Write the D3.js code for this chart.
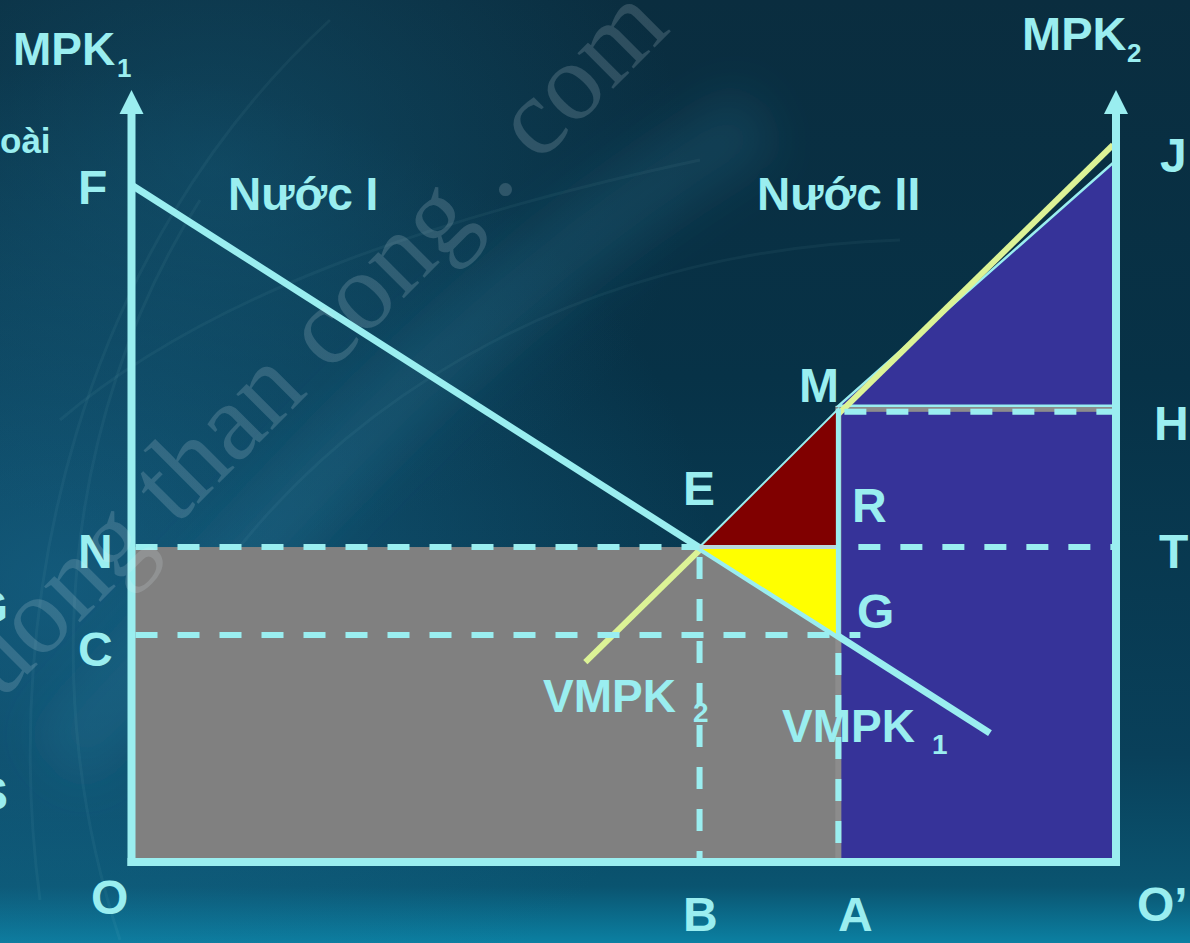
<!DOCTYPE html>
<html>
<head>
<meta charset="utf-8">
<script src="https://cdn.jsdelivr.net/npm/d3@7"></script>
<style>
html, body { margin: 0; padding: 0; background: #08374e; overflow: hidden; }
</style>
</head>
<body>
<div class="canvas"></div>
<script>
// capital axis (O ... O'), in % of the world capital stock
const capitalNames = ["O", "B", "A", "O’"]
const capitalAt = [0, 57.7, 71.8, 100]

// return levels on the MPK axes
const rateNames = ["F", "N", "C", "H", "J"]
const rateAt = [87.7, 40.8, 29.4, 58.7, 90.9]

// the two VMPK curves, [capital, return]
const vmpk1 = [[0, 87.7], [87.2, 16.7]]
const vmpk2 = [[46.1, 25.9], [99.7, 92.9]]

const W = 1190, H = 943
const cyan = "#9aeef0"

const svg = d3.select(".canvas")
    .append("svg")
    .attr("width", W)
    .attr("height", H)

const x = d3.scaleLinear().domain([0, 100]).range([131.5, 1116])
const y = d3.scaleLinear().domain([0, 100]).range([862, 90])

const cx = name => x(capitalAt[capitalNames.indexOf(name)])
const ry = name => y(rateAt[rateNames.indexOf(name)])

// ---- background ----
const defs = svg.append("defs")
const bg = defs.append("linearGradient").attr("id", "bg")
    .attr("x1", 0).attr("y1", 0).attr("x2", 0).attr("y2", 1)
bg.append("stop").attr("offset", "0%").attr("stop-color", "#0a2d3f")
bg.append("stop").attr("offset", "40%").attr("stop-color", "#073247")
bg.append("stop").attr("offset", "80%").attr("stop-color", "#09405a")
bg.append("stop").attr("offset", "94%").attr("stop-color", "#0a5470")
bg.append("stop").attr("offset", "100%").attr("stop-color", "#0b80a2")

const glow = defs.append("radialGradient").attr("id", "glow")
    .attr("cx", 0.05).attr("cy", 0.62).attr("r", 0.55)
glow.append("stop").attr("offset", "0%").attr("stop-color", "#1a6f96").attr("stop-opacity", 0.6)
glow.append("stop").attr("offset", "100%").attr("stop-color", "#1a6f96").attr("stop-opacity", 0)

const glow2 = defs.append("radialGradient").attr("id", "glow2")
    .attr("cx", 0.18).attr("cy", 0.18).attr("r", 0.4)
glow2.append("stop").attr("offset", "0%").attr("stop-color", "#17607f").attr("stop-opacity", 0.45)
glow2.append("stop").attr("offset", "100%").attr("stop-color", "#17607f").attr("stop-opacity", 0)

defs.append("filter").attr("id", "blur").append("feGaussianBlur").attr("stdDeviation", 3)
defs.append("filter").attr("id", "blurBig").append("feGaussianBlur").attr("stdDeviation", 25)

svg.append("rect").attr("width", W).attr("height", H).attr("fill", "url(#bg)")
svg.append("rect").attr("width", W).attr("height", H).attr("fill", "url(#glow)")
svg.append("rect").attr("width", W).attr("height", H).attr("fill", "url(#glow2)")

// soft diagonal light band and swooshes
svg.append("path")
    .attr("d", "M 60 760 C 250 560, 450 300, 760 120")
    .attr("fill", "none").attr("stroke", "#3a90b0").attr("stroke-opacity", 0.18)
    .attr("stroke-width", 70).attr("filter", "url(#blurBig)")
const swooshes = [
    "M 40 900 C 0 600, 80 250, 330 20",
    "M 120 940 C 40 700, 60 420, 200 200",
    "M 200 600 C 350 380, 600 250, 900 240",
    "M 60 420 C 200 300, 420 220, 700 160"
]
svg.selectAll(".swoosh").data(swooshes).enter().append("path")
    .attr("class", "swoosh")
    .attr("d", d => d)
    .attr("fill", "none").attr("stroke", "#a8e4f4").attr("stroke-opacity", 0.05)
    .attr("stroke-width", 3)

const streaks = [70, 104, 142, 190, 262]
svg.selectAll(".streak").data(streaks).enter().append("line")
    .attr("class", "streak")
    .attr("x1", 760).attr("x2", 1190)
    .attr("y1", d => d).attr("y2", d => d)
    .attr("stroke", "#3fa6cc").attr("stroke-opacity", 0.22)
    .attr("stroke-width", 4).attr("filter", "url(#blur)")

// ---- areas ----
const E = [cx("B"), ry("N")]
const M = [cx("A"), ry("H")]
const R = [cx("A"), ry("N")]
const G = [cx("A"), ry("C")]
const J = [x(100), ry("J")]
const Hp = [x(100), ry("H")]

const line = d3.line().x(d => x(d[0])).y(d => y(d[1]))
const poly = pts => pts.map(p => p.join(",")).join(" ")

svg.append("rect")
    .attr("x", x(0)).attr("y", ry("N"))
    .attr("width", cx("A") - x(0)).attr("height", y(0) - ry("N"))
    .attr("fill", "#808080")

svg.append("rect")
    .attr("x", cx("A")).attr("y", ry("H"))
    .attr("width", x(100) - cx("A")).attr("height", y(0) - ry("H"))
    .attr("fill", "#363399").attr("stroke", "#8c8c8c").attr("stroke-width", 6)

svg.append("polygon").attr("points", poly([[M[0], M[1] - 3], J, [Hp[0], Hp[1] - 3]]))
    .attr("fill", "#363399").attr("stroke", cyan).attr("stroke-width", 2.5)

// VMPK curves, the shaded triangles sit over them
svg.append("path").datum(vmpk2).attr("d", line)
    .attr("fill", "none").attr("stroke", "#dcf396").attr("stroke-width", 6)
svg.append("path").datum(vmpk1).attr("d", line)
    .attr("fill", "none").attr("stroke", cyan).attr("stroke-width", 7)

svg.append("polygon").attr("points", poly([E, M, R]))
    .attr("fill", "#800000").attr("stroke", cyan).attr("stroke-width", 2)
svg.append("polygon").attr("points", poly([E, R, G]))
    .attr("fill", "#ffff00")

// ---- dashed guides ----
const dash = (x1, y1, x2, y2) => svg.append("line")
    .attr("x1", x1).attr("y1", y1).attr("x2", x2).attr("y2", y2)
    .attr("stroke", cyan).attr("stroke-width", 6).attr("stroke-dasharray", "22 20")

dash(x(0) + 4, ry("N"), E[0], ry("N"))
dash(R[0] + 20, ry("N"), x(100), ry("N"))
svg.append("line").attr("x1", E[0]).attr("y1", ry("N")).attr("x2", R[0]).attr("y2", ry("N"))
    .attr("stroke", "#b9d9dd").attr("stroke-width", 4)
dash(x(0) + 4, ry("C"), cx("A") + 22, ry("C"))
dash(cx("B"), ry("N") + 10, cx("B"), y(0))
dash(cx("A") + 6, ry("H") + 3, x(100), ry("H") + 3)
svg.append("line").attr("x1", cx("A")).attr("y1", ry("H")).attr("x2", cx("A")).attr("y2", ry("C"))
    .attr("stroke", cyan).attr("stroke-width", 5)
dash(cx("A"), ry("C") + 18, cx("A"), y(0))

// ---- axes ----
const axis = (x1, y1, x2, y2) => svg.append("line")
    .attr("x1", x1).attr("y1", y1).attr("x2", x2).attr("y2", y2)
    .attr("stroke", cyan).attr("stroke-width", 8)

axis(x(0), y(0) + 4, x(0), y(100) + 14)
axis(x(100), y(0) + 4, x(100), y(100) + 14)
axis(x(0) - 4, y(0), x(100) + 4, y(0))

;[x(0), x(100)].forEach(ax => {
    svg.append("polygon")
        .attr("points", poly([[ax, y(100)], [ax - 12, y(100) + 24], [ax + 12, y(100) + 24]]))
        .attr("fill", cyan)
})

// ---- labels ----
const labels = [
    ["F", 78, 204, 48], ["N", 78, 568, 48], ["C", 78, 666, 48], ["O", 91, 914, 48],
    ["B", 683, 931, 48], ["A", 838, 931, 48], ["O’", 1137, 921, 48],
    ["E", 683, 505, 48], ["M", 799, 402, 48], ["R", 852, 522, 48], ["G", 857, 628, 48],
    ["J", 1160, 172, 48], ["H", 1154, 440, 48], ["T", 1159, 568, 48],
    ["Nước I", 228, 210, 46], ["Nước II", 757, 210, 46],
    ["VMPK", 543, 712, 46], ["2", 693, 722, 28],
    ["VMPK", 782, 742, 46], ["1", 932, 754, 28],
    ["MPK", 13, 65, 46], ["1", 117, 77, 26],
    ["MPK", 1022, 50, 47], ["2", 1127, 62, 26]
]
svg.selectAll(".lab").data(labels).enter().append("text")
    .attr("class", "lab")
    .attr("x", d => d[1]).attr("y", d => d[2])
    .attr("font-size", d => d[3])
    .attr("font-family", "'Liberation Sans', Arial, sans-serif")
    .attr("font-weight", "bold")
    .attr("fill", cyan)
    .text(d => d[0])

// leftover text from the slide edge
const cutoff = [["oài", 0, 153, 35], ["G", 8, 623, 46], ["S", 8, 810, 46]]
svg.selectAll(".cut").data(cutoff).enter().append("text")
    .attr("class", "cut")
    .attr("x", d => d[1]).attr("y", d => d[2])
    .attr("text-anchor", (d, i) => i === 0 ? "start" : "end")
    .attr("font-size", d => d[3])
    .attr("font-family", "'Liberation Sans', Arial, sans-serif")
    .attr("font-weight", "bold")
    .attr("fill", cyan)
    .text(d => d[0])

// watermark
svg.append("text")
    .attr("transform", "translate(672, 30) rotate(-45)")
    .attr("text-anchor", "end")
    .attr("font-family", "'Liberation Serif', 'DejaVu Serif', serif")
    .attr("font-size", 110)
    .attr("fill", "#dfeef2")
    .attr("fill-opacity", 0.17)
    .text("cuong than cong . com")
</script>
</body>
</html>
